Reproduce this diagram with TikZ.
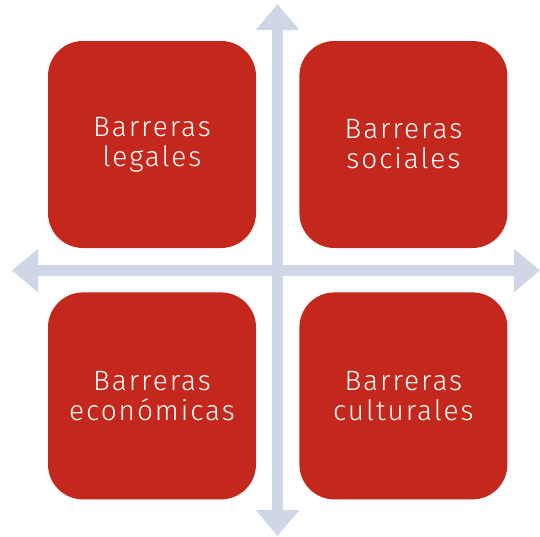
\documentclass[tikz,border=0pt]{standalone}
\usepackage{fontspec}
\setmainfont{Fira Sans Light}[LetterSpace=7]
\usetikzlibrary{arrows.meta,positioning}
\definecolor{barrojo}{HTML}{C4281C}
\definecolor{ejegris}{HTML}{CFD7E6}
\tikzset{
    %Define style for boxes
    barrera/.style={
           rectangle,
           rounded corners=35pt,
           fill=barrojo,
           text=white,
           minimum width=208pt,
           minimum height=207pt,
           inner sep=0pt,
           align=center,
           font=\fontsize{28}{30}\selectfont},
    % Define arrow style
    eje/.style={
           {Triangle[width=42pt,length=26pt]}-{Triangle[width=42pt,length=26pt]},
           line width=11pt,
           draw=ejegris}
}
\begin{document}
\begin{tikzpicture}[x=1pt, y=-1pt, node distance=43pt and 44pt]
\useasboundingbox (0,0) rectangle (540,536);

%axis ends
\coordinate (arriba) at (277.5,4);
\coordinate (abajo) at (277.5,536);
\coordinate (izq) at (12,270.5);
\coordinate (der) at (540,270.5);
\draw[eje] (arriba) -- (abajo);
\draw[eje] (izq) -- (der);

%the four barriers
\node[barrera] (legales) at (152,144.5) {Barreras\\legales};
\node[barrera, right=43pt of legales] (sociales) {Barreras\\sociales};
\node[barrera, below=44pt of legales] (economicas) {Barreras\\económicas};
\node[barrera, below=44pt of sociales] (culturales) {Barreras\\culturales};

\end{tikzpicture}
\end{document}
